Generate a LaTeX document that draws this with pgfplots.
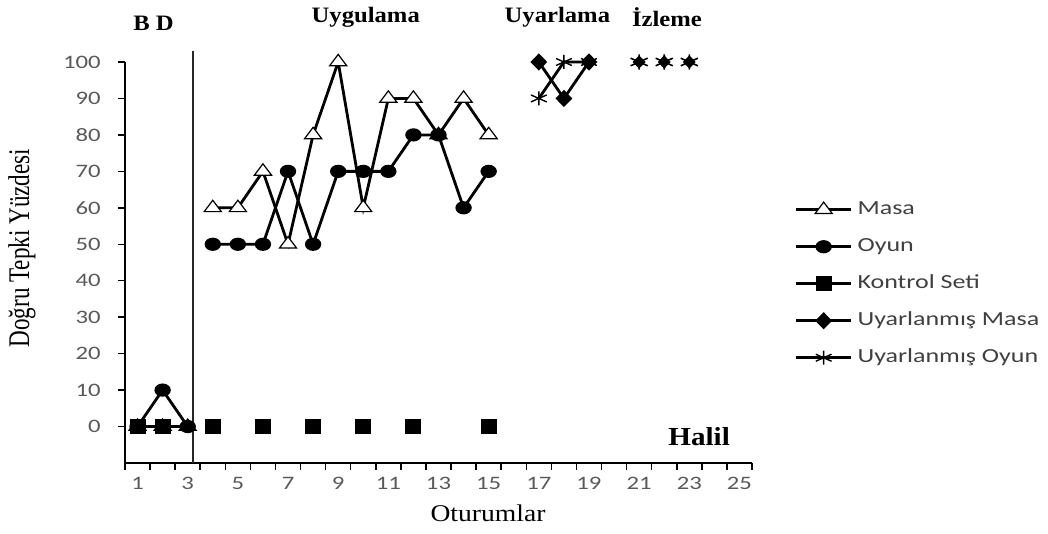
\documentclass[border=0pt]{standalone}
\usepackage{fontspec}
\setmainfont{Liberation Serif}
\newfontfamily\tickfont{Carlito}[FakeStretch=1.3]
\newfontfamily\ylabfont{Liberation Serif}[FakeStretch=0.77]
\newfontfamily\xlabfont{Liberation Serif}[FakeStretch=1.15]
\newfontfamily\widefont{Liberation Serif}[FakeStretch=1.12]
\usepackage{pgfplots}
\pgfplotsset{compat=1.18}
\definecolor{tickgray}{RGB}{89,89,89}
\definecolor{leggray}{RGB}{64,64,64}
\begin{document}
\begin{tikzpicture}[x=1pt,y=1pt]
\useasboundingbox (-62.5,-35.5) rectangle (461.5,231.5);
\begin{axis}[
    at={(0,0)}, anchor=south west,
    scale only axis, width=313.5pt, height=200.5pt,
    xmin=0.5, xmax=25.5, ymin=-10, ymax=100,
    axis x line*=bottom, axis y line*=left,
    axis line style={line width=0.75pt, -},
    clip=false,
    unbounded coords=jump,
    xtick={0.5,1.5,...,25.5}, xticklabels={},
    extra x ticks={1,3,...,25},
    extra x tick style={major tick length=0pt},
    ytick={0,10,...,100},
    tick align=outside, major tick length=3.5pt,
    tick style={black, line width=0.75pt},
    /pgf/number format/assume math mode=true,
    ticklabel style={font=\tickfont\fontsize{9.5}{11}\selectfont, text=tickgray},
    yticklabel style={inner sep=0pt, xshift=-8.5pt},
    xticklabel style={inner sep=0pt, yshift=-7pt},
    xlabel={Oturumlar},
    xlabel style={font=\xlabfont\fontsize{12}{14}\selectfont, at={(axis description cs:0.579,-0.125)}, anchor=center},
    ylabel={Doğru Tepki Yüzdesi},
    ylabel style={font=\ylabfont\fontsize{15}{17}\selectfont, at={(axis description cs:-0.1643,0.536)}, anchor=center},
    legend cell align=left,
    legend style={at={(1.058,0.665)}, anchor=north west, draw=none, fill=none,
        font=\tickfont\fontsize{10}{12}\selectfont, text=leggray,
        nodes={inner xsep=2.5pt, inner ysep=0pt, text height=7pt, text depth=2pt},
        row sep=9.5pt},
    legend image code/.code={\draw[mark repeat=2, mark phase=2, #1] plot coordinates {(0pt,0pt) (13.75pt,0pt) (27.5pt,0pt)};},
]
% Masa
\addplot[black, line width=1.4pt, mark=triangle*,
    mark options={fill=white, line width=0.6pt, mark size=3.8pt, xscale=1.3}]
    coordinates {(1,0) (2,0) (3,0) (3.5,nan)
    (4,60) (5,60) (6,70) (7,50) (8,80) (9,100) (10,60) (11,90) (12,90) (13,80) (14,90) (15,80)};
\addlegendentry{Masa}
% Oyun
\addplot[black, line width=1.4pt, mark=*,
    mark options={mark size=2.6pt, xscale=1.3}]
    coordinates {(1,0) (2,10) (3,0) (3.5,nan)
    (4,50) (5,50) (6,50) (7,70) (8,50) (9,70) (10,70) (11,70) (12,80) (13,80) (14,60) (15,70)};
\addlegendentry{Oyun}
% Kontrol Seti
\addplot[black, line width=1.4pt, mark=square*,
    mark options={mark size=3pt, xscale=1.1}]
    coordinates {(1,0) (2,0) (3,nan) (4,0) (5,nan) (6,0) (7,nan) (8,0) (9,nan)
    (10,0) (11,nan) (12,0) (13,nan) (15,0)};
\addlegendentry{Kontrol Seti}
% Uyarlanmis Masa
\addplot[black, line width=1.4pt, mark=diamond*,
    mark options={mark size=3.3pt, xscale=1.3}]
    coordinates {(17,100) (18,90) (19,100)};
\addlegendentry{Uyarlanmış Masa}
% Uyarlanmis Oyun
\addplot[black, line width=1.4pt, mark=asterisk,
    mark options={mark size=3.5pt, line width=0.7pt, xscale=1.3}]
    coordinates {(17,90) (18,100) (19,100)};
\addlegendentry{Uyarlanmış Oyun}
% Izleme
\addplot[forget plot, only marks, black, mark=diamond*,
    mark options={mark size=3pt, xscale=1.3}]
    coordinates {(21,100) (22,100) (23,100)};
\addplot[forget plot, only marks, black, mark=asterisk,
    mark options={mark size=3.8pt, line width=0.8pt, xscale=1.3}]
    coordinates {(21,100) (22,100) (23,100)};
% phase line
\draw[black!85, line width=0.9pt] (axis cs:3.2,-10) -- (axis cs:3.2,103);
% phase labels
\node[font=\widefont\bfseries\fontsize{11}{13}\selectfont] at (axis cs:1.64,110.5) {B D};
\node[font=\widefont\bfseries\fontsize{11}{13}\selectfont] at (axis cs:10.1,112.3) {Uygulama};
\node[font=\widefont\bfseries\fontsize{11}{13}\selectfont] at (axis cs:17.74,112.3) {Uyarlama};
\node[font=\widefont\bfseries\fontsize{11}{13}\selectfont] at (axis cs:22.11,112.3) {İzleme};
\node[font=\widefont\bfseries\fontsize{13}{15}\selectfont] at (axis cs:23.39,-2.87) {Halil};
\end{axis}
\end{tikzpicture}
\end{document}
